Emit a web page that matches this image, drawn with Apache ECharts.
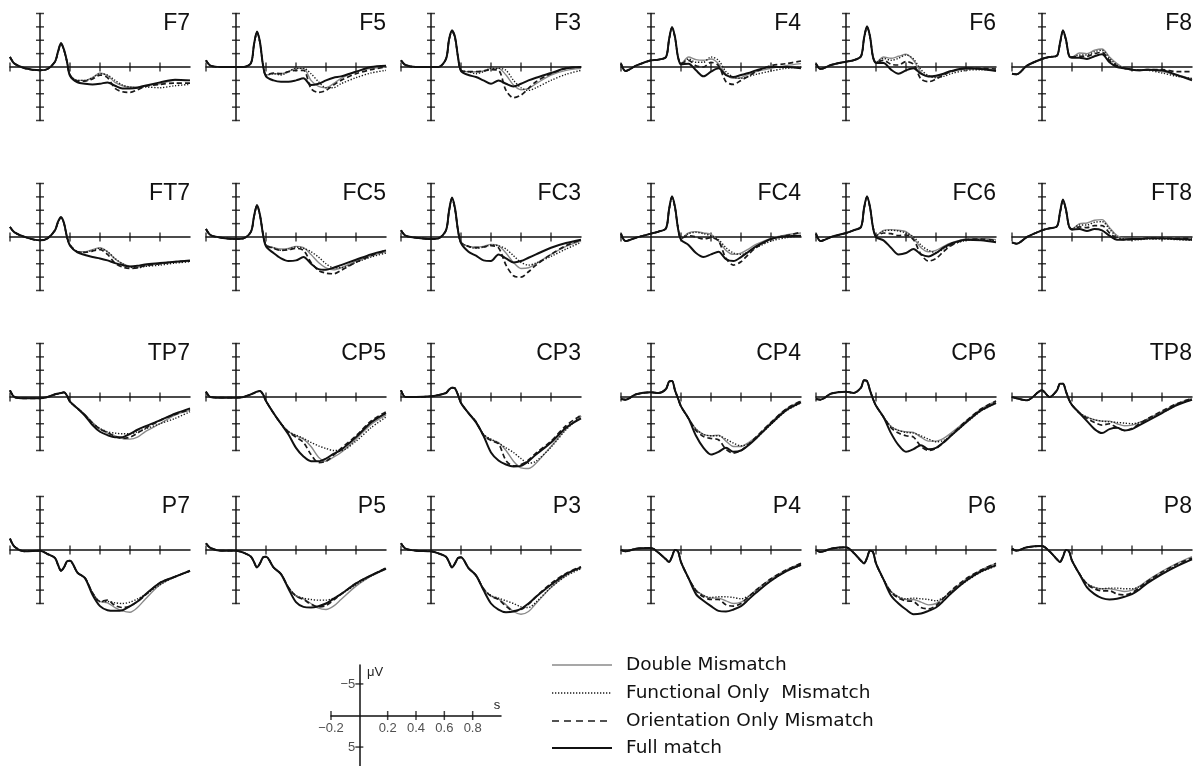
<!DOCTYPE html>
<html><head><meta charset="utf-8">
<script src="https://cdn.jsdelivr.net/npm/echarts/dist/echarts.min.js"></script>
<style>html,body{margin:0;padding:0;background:#fff}#c{width:1195px;height:766px}</style>
</head><body><div id="c"></div>
<script>
// time points (s)
const times = [-0.2,-0.17,-0.1,0,0.05,0.1,0.12,0.14,0.16,0.18,0.2,0.25,0.3,0.35,0.4,0.45,0.5,0.55,0.6,0.65,0.7,0.8,0.9,1.0];
const conditions = ['Double Mismatch','Functional Only  Mismatch','Orientation Only Mismatch','Full match'];
const electrodes = ['F7','F5','F3','F4','F6','F8','FT7','FC5','FC3','FC4','FC6','FT8','TP7','CP5','CP3','CP4','CP6','TP8','P7','P5','P3','P4','P6','P8'];
// each electrode: [double, functional, orientation, full] in µV (negative plotted up)
const F7 = [
[-1.5,-0.5,0.2,0.5,0.3,-0.8,-2.2,-3.5,-2.5,-0.8,1.2,2.0,2.0,1.6,0.9,1.3,2.3,2.8,3.0,3.0,2.8,2.5,2.0,2.0],
[-1.5,-0.5,0.2,0.5,0.3,-0.8,-2.2,-3.4,-2.5,-0.8,1.2,2.0,2.0,1.6,1.0,1.2,2.0,2.7,3.0,3.1,3.0,3.1,2.8,2.6],
[-1.5,-0.5,0.2,0.5,0.3,-0.8,-2.2,-3.5,-2.5,-0.8,1.2,2.1,2.1,1.8,1.2,1.6,3.2,3.7,3.8,3.4,2.9,2.6,2.4,2.4],
[-1.5,-0.5,0.2,0.5,0.3,-0.8,-2.3,-3.6,-2.6,-0.8,1.3,2.3,2.5,2.6,2.5,2.3,2.8,3.2,3.2,3.1,2.8,2.3,1.9,2.0]];
const F5 = [
[-1.0,-0.2,0,0,0,-0.6,-3.3,-5.2,-3.6,-0.3,1.2,1.0,1.0,0.7,0.2,0.2,2.0,2.9,3.1,2.5,1.7,0.7,0.2,0.0],
[-1.0,-0.2,0,0,0,-0.6,-3.3,-5.1,-3.6,-0.3,1.2,1.0,1.2,0.7,0.2,0.2,1.0,2.2,3.1,3.1,2.5,1.6,0.9,0.5],
[-1.0,-0.2,0,0,0,-0.6,-3.3,-5.2,-3.6,-0.3,1.2,0.9,1.0,0.7,0.5,0.5,3.2,3.8,3.5,2.7,2.0,1.0,0.4,0.0],
[-1.0,-0.2,0,0,0,-0.6,-3.4,-5.3,-3.7,-0.3,1.4,2.0,2.2,2.2,2.0,1.7,2.7,2.5,2.0,1.6,1.4,0.7,0.0,-0.2]];
const F3 = [
[-1.0,-0.3,0,0,0,-1.2,-4.0,-5.4,-4.4,-1.5,0.5,0.7,0.7,0.6,0.2,0.2,1.2,2.7,3.4,3.2,2.5,1.2,0.5,0.2],
[-1.0,-0.3,0,0,0,-1.2,-4.0,-5.3,-4.4,-1.5,0.5,0.7,1.0,0.7,0.2,0.2,0.5,2.0,3.1,3.5,3.1,2.0,1.1,0.5],
[-1.0,-0.3,0,0,0,-1.2,-4.0,-5.4,-4.4,-1.5,0.5,0.7,0.7,0.6,0.4,0.5,3.5,4.6,4.2,3.2,2.2,1.0,0.2,0.0],
[-1.0,-0.3,0,0,0,-1.2,-4.1,-5.5,-4.5,-1.5,0.6,1.2,1.5,2.0,2.5,2.0,2.5,2.9,2.5,2.0,1.6,0.9,0.2,0.0]];
const F4 = [
[-0.5,0.6,-0.2,-1.0,-1.1,-1.5,-4.0,-5.9,-4.4,-1.5,-0.5,-1.5,-1.1,-1.0,-1.2,-0.5,1.1,1.7,1.6,1.1,0.7,0.2,-0.2,-0.5],
[-0.5,0.6,-0.2,-1.0,-1.1,-1.5,-4.0,-5.8,-4.4,-1.5,-0.5,-1.2,-0.7,-0.7,-1.5,-1.0,0.7,1.5,1.7,1.4,1.1,0.6,0.2,0.0],
[-0.5,0.6,-0.2,-1.0,-1.1,-1.5,-4.0,-5.9,-4.4,-1.5,-0.5,-1.0,-0.2,0.0,-0.7,-0.2,2.2,2.6,2.0,1.4,0.7,-0.2,-0.5,-0.9],
[-0.5,0.6,-0.2,-1.0,-1.1,-1.5,-4.1,-6.0,-4.5,-1.5,-0.4,-0.5,0.5,1.4,0.7,0.2,1.2,1.5,1.2,0.9,0.5,0.0,0.0,0.2]];
const F6 = [
[-0.5,0.3,-0.3,-0.8,-1.0,-1.6,-4.2,-6.0,-4.5,-1.5,-0.7,-1.5,-1.3,-1.6,-1.9,-1.0,0.8,1.5,1.5,1.1,0.7,0.3,0.2,0.3],
[-0.5,0.3,-0.3,-0.8,-1.0,-1.6,-4.2,-5.9,-4.5,-1.5,-0.7,-1.3,-1.0,-1.3,-1.8,-1.2,0.4,1.3,1.6,1.4,1.0,0.5,0.4,0.5],
[-0.5,0.3,-0.3,-0.8,-1.0,-1.6,-4.2,-6.0,-4.5,-1.5,-0.7,-1.0,-0.4,-0.3,-0.8,-0.4,1.8,2.2,1.8,1.2,0.7,0.2,0.2,0.3],
[-0.5,0.3,-0.3,-0.8,-1.0,-1.6,-4.3,-6.1,-4.6,-1.5,-0.6,-0.6,0.4,1.0,0.5,0.2,1.0,1.4,1.3,1.0,0.6,0.2,0.3,0.6]];
const F8 = [
[1.0,1.1,-0.2,-1.2,-1.5,-1.7,-3.5,-5.4,-4.0,-1.7,-1.5,-2.1,-2.0,-2.5,-2.7,-1.5,-0.5,0.2,0.4,0.5,0.4,0.7,1.2,1.8],
[1.0,1.1,-0.2,-1.2,-1.5,-1.7,-3.5,-5.3,-4.0,-1.7,-1.5,-1.8,-1.8,-2.3,-2.5,-1.3,-0.3,0.2,0.4,0.5,0.5,0.9,1.4,1.7],
[1.0,1.1,-0.2,-1.2,-1.5,-1.7,-3.5,-5.4,-4.0,-1.7,-1.5,-1.6,-1.6,-2.0,-2.2,-1.0,-0.2,0.2,0.4,0.5,0.4,0.4,0.7,0.7],
[1.0,1.1,-0.2,-1.2,-1.5,-1.7,-3.6,-5.5,-4.1,-1.7,-1.4,-1.4,-1.2,-1.6,-1.9,-0.7,0.0,0.2,0.4,0.5,0.4,0.5,1.2,2.0]];
const FT7 = [
[-1.5,-0.7,0,0.5,0.2,-1.0,-2.2,-2.9,-2.0,0,1.2,2.2,2.2,1.9,1.6,2.2,3.3,4.0,4.4,4.5,4.3,4.0,3.7,3.6],
[-1.5,-0.7,0,0.5,0.2,-1.0,-2.2,-2.8,-2.0,0,1.2,2.2,2.3,2.0,1.7,2.2,3.2,4.0,4.5,4.6,4.4,4.2,3.9,3.7],
[-1.5,-0.7,0,0.5,0.2,-1.0,-2.2,-2.9,-2.0,0,1.2,2.2,2.3,2.1,1.9,2.6,3.9,4.5,4.7,4.6,4.3,4.0,3.7,3.6],
[-1.5,-0.7,0,0.5,0.2,-1.0,-2.3,-3.0,-2.1,0,1.3,2.3,2.7,3.0,3.2,3.5,3.9,4.2,4.4,4.3,4.1,3.9,3.7,3.5]];
const FC5 = [
[-1.2,-0.3,0.1,0.3,0.2,-0.8,-3.0,-4.7,-3.2,-0.5,1.2,1.6,1.8,1.7,1.4,1.6,2.6,3.8,4.6,4.9,4.6,3.6,2.8,2.2],
[-1.2,-0.3,0.1,0.3,0.2,-0.8,-3.0,-4.6,-3.2,-0.5,1.2,1.6,2.0,1.8,1.5,1.7,2.2,3.0,4.0,4.6,4.6,3.8,3.0,2.4],
[-1.2,-0.3,0.1,0.3,0.2,-0.8,-3.0,-4.7,-3.2,-0.5,1.2,1.7,2.0,1.9,1.7,2.0,3.8,5.0,5.4,5.5,5.0,3.8,2.8,2.0],
[-1.2,-0.3,0.1,0.3,0.2,-0.8,-3.1,-4.8,-3.3,-0.4,1.4,2.4,3.2,3.6,3.5,3.0,4.0,4.8,4.9,4.6,4.2,3.4,2.6,2.0]];
const FC3 = [
[-1.0,-0.2,0.1,0.3,0.2,-1.0,-3.8,-5.8,-4.2,-1.0,0.8,1.4,1.5,1.4,1.1,1.3,2.4,3.8,4.7,4.6,4.0,2.6,1.4,0.6],
[-1.0,-0.2,0.1,0.3,0.2,-1.0,-3.8,-5.7,-4.2,-1.0,0.8,1.4,1.7,1.5,1.2,1.3,1.8,2.8,3.8,4.2,3.9,2.9,1.8,0.8],
[-1.0,-0.2,0.1,0.3,0.2,-1.0,-3.8,-5.8,-4.2,-1.0,0.8,1.4,1.6,1.5,1.3,1.6,4.2,5.8,6.0,5.2,4.2,2.6,1.3,0.4],
[-1.0,-0.2,0.1,0.3,0.2,-1.0,-3.9,-5.9,-4.3,-1.0,0.9,2.2,2.8,3.5,3.6,2.6,3.2,3.8,3.6,3.1,2.6,1.6,0.9,0.4]];
const FC4 = [
[-0.5,0.6,0.1,-0.5,-0.8,-1.3,-4.0,-6.0,-4.4,-1.4,0.2,-0.6,-0.8,-0.6,-0.4,0.6,2.0,2.6,2.4,1.8,1.1,0.2,-0.3,-0.6],
[-0.5,0.6,0.1,-0.5,-0.8,-1.3,-4.0,-5.9,-4.4,-1.4,0.2,-0.5,-0.7,-0.5,-0.2,0.4,1.6,2.4,2.6,2.2,1.6,0.6,0.1,-0.2],
[-0.5,0.6,0.1,-0.5,-0.8,-1.3,-4.0,-6.0,-4.4,-1.4,0.2,-0.2,0.0,0.3,0.1,0.6,3.2,4.2,3.7,2.6,1.6,0.3,-0.2,-0.7],
[-0.5,0.6,0.1,-0.5,-0.8,-1.3,-4.1,-6.1,-4.5,-1.3,0.4,1.2,2.4,3.0,2.6,2.2,3.3,3.6,3.0,2.2,1.4,0.3,-0.1,-0.2]];
const FC6 = [
[-0.5,0.6,0.0,-0.6,-1.0,-1.5,-4.2,-6.0,-4.4,-1.5,-0.2,-1.0,-1.1,-1.0,-0.8,0.2,1.6,2.2,2.0,1.4,0.9,0.3,0.2,0.4],
[-0.5,0.6,0.0,-0.6,-1.0,-1.5,-4.2,-5.9,-4.4,-1.5,-0.2,-0.9,-1.0,-0.9,-0.6,0.0,1.2,2.0,2.3,1.8,1.2,0.5,0.4,0.6],
[-0.5,0.6,0.0,-0.6,-1.0,-1.5,-4.2,-6.0,-4.4,-1.5,-0.2,-0.6,-0.5,-0.2,-0.3,0.4,2.6,3.6,3.2,2.2,1.3,0.4,0.3,0.5],
[-0.5,0.6,0.0,-0.6,-1.0,-1.5,-4.3,-6.1,-4.5,-1.4,0.0,0.5,1.6,2.6,2.4,1.8,2.6,2.9,2.4,1.6,1.0,0.4,0.5,0.8]];
const FT8 = [
[0.8,1.0,0.0,-1.0,-1.3,-1.6,-3.6,-5.5,-4.0,-1.6,-1.2,-2.0,-2.1,-2.5,-2.6,-1.4,-0.2,0.2,0.2,0.2,0.1,0.1,0.2,0.3],
[0.8,1.0,0.0,-1.0,-1.3,-1.6,-3.6,-5.4,-4.0,-1.6,-1.2,-1.8,-1.8,-2.2,-2.3,-1.2,0.0,0.3,0.4,0.4,0.3,0.3,0.4,0.5],
[0.8,1.0,0.0,-1.0,-1.3,-1.6,-3.6,-5.5,-4.0,-1.6,-1.2,-1.5,-1.4,-1.7,-1.7,-0.6,0.2,0.4,0.4,0.3,0.2,0.2,0.2,0.2],
[0.8,1.0,0.0,-1.0,-1.3,-1.6,-3.7,-5.6,-4.1,-1.6,-1.1,-1.2,-0.9,-1.2,-1.0,-0.2,0.4,0.4,0.3,0.3,0.2,0.2,0.3,0.4]];
const TP7 = [
[-1.0,0.0,0.2,0.2,0.0,-0.4,-0.5,-0.6,-0.7,-0.2,0.7,1.7,2.6,3.8,4.8,5.4,5.8,6.2,6.3,6.0,5.2,4.0,2.7,2.0],
[-1.0,0.0,0.2,0.2,0.0,-0.4,-0.5,-0.6,-0.7,-0.2,0.7,1.7,2.7,3.9,4.7,5.2,5.4,5.5,5.5,5.2,4.8,4.0,3.2,2.2],
[-1.0,0.0,0.2,0.2,0.0,-0.4,-0.5,-0.6,-0.7,-0.2,0.7,1.7,2.7,3.9,4.8,5.3,5.9,6.2,6.0,5.4,4.7,3.5,2.6,1.9],
[-1.0,0.0,0.2,0.2,0.0,-0.4,-0.5,-0.6,-0.7,-0.2,0.7,1.7,2.8,4.2,5.2,5.7,6.0,6.0,5.5,4.9,4.4,3.5,2.5,1.7]];
const CP5 = [
[-0.8,0.0,0.1,0.1,0.0,-0.4,-0.6,-0.8,-0.9,-0.4,0.6,2.4,4.0,5.2,5.8,6.3,7.4,9.0,9.6,9.0,8.3,6.3,4.1,2.7],
[-0.8,0.0,0.1,0.1,0.0,-0.4,-0.6,-0.8,-0.9,-0.4,0.6,2.4,4.0,5.2,5.7,6.2,6.8,7.3,7.7,8.0,8.0,6.6,4.6,3.0],
[-0.8,0.0,0.1,0.1,0.0,-0.4,-0.6,-0.8,-0.9,-0.4,0.6,2.4,4.0,5.2,6.0,6.8,8.6,9.8,9.6,8.7,7.7,5.8,3.6,2.2],
[-0.8,0.0,0.1,0.1,0.0,-0.4,-0.6,-0.8,-0.9,-0.4,0.6,2.4,4.0,5.6,7.6,8.9,9.6,9.6,9.2,8.5,7.9,6.0,3.8,2.4]];
const CP3 = [
[-1.0,0.0,0.0,-0.1,-0.3,-0.6,-1.1,-1.4,-1.3,-0.3,0.9,2.4,3.7,5.6,6.4,6.8,8.0,9.6,10.6,10.7,9.9,7.4,4.8,2.9],
[-1.0,0.0,0.0,-0.1,-0.3,-0.6,-1.1,-1.4,-1.3,-0.3,0.9,2.4,3.7,5.6,6.3,6.9,7.6,8.3,9.2,9.9,9.6,7.5,4.9,2.8],
[-1.0,0.0,0.0,-0.1,-0.3,-0.6,-1.1,-1.4,-1.3,-0.3,0.9,2.4,3.7,5.7,6.5,7.0,9.5,10.3,10.1,9.4,8.4,6.6,4.3,2.7],
[-1.0,0.0,0.0,-0.1,-0.3,-0.6,-1.1,-1.4,-1.3,-0.3,0.9,2.4,3.8,5.8,8.3,9.5,10.1,10.4,10.3,9.6,8.6,6.8,4.6,3.2]];
const CP4 = [
[0.3,0.4,-0.4,-0.7,-0.6,-1.2,-2.3,-2.4,-1.0,0.2,1.4,3.2,4.8,5.6,5.8,5.7,6.6,7.4,7.4,6.8,6.0,3.8,1.8,0.6],
[0.3,0.4,-0.4,-0.7,-0.6,-1.2,-2.3,-2.4,-1.0,0.2,1.4,3.2,4.8,5.6,5.8,5.8,6.3,6.9,7.3,7.0,6.2,4.1,2.1,0.9],
[0.3,0.4,-0.4,-0.7,-0.6,-1.2,-2.3,-2.4,-1.0,0.2,1.4,3.2,5.0,5.9,6.2,6.4,7.8,8.4,8.0,7.1,6.0,3.8,1.8,0.6],
[0.3,0.4,-0.4,-0.7,-0.6,-1.2,-2.3,-2.4,-1.0,0.2,1.4,3.2,5.8,7.6,8.6,8.2,7.6,8.2,8.0,7.2,6.2,4.0,2.0,0.8]];
const CP6 = [
[0.3,0.4,-0.5,-0.8,-0.6,-1.4,-2.5,-2.4,-1.0,0.3,1.3,3.0,4.4,5.0,5.2,5.3,6.0,6.6,6.6,6.2,5.4,3.6,1.8,0.6],
[0.3,0.4,-0.5,-0.8,-0.6,-1.4,-2.5,-2.4,-1.0,0.3,1.3,3.0,4.4,5.0,5.3,5.4,5.8,6.3,6.7,6.5,5.8,3.9,2.1,0.9],
[0.3,0.4,-0.5,-0.8,-0.6,-1.4,-2.5,-2.4,-1.0,0.3,1.3,3.0,4.6,5.4,5.8,6.0,7.4,8.0,7.7,6.8,5.7,3.6,1.8,0.6],
[0.3,0.4,-0.5,-0.8,-0.6,-1.4,-2.5,-2.4,-1.0,0.3,1.3,3.0,5.4,7.2,8.2,7.8,7.2,7.8,7.6,6.8,5.8,3.8,2.0,0.9]];
const TP8 = [
[0.0,0.2,0.5,-1.0,0.0,-1.0,-2.0,-2.0,-0.8,0.4,1.2,2.4,3.0,3.4,3.6,3.6,4.0,4.3,4.2,3.8,3.3,2.2,1.0,0.2],
[0.0,0.2,0.5,-1.0,0.0,-1.0,-2.0,-2.0,-0.8,0.4,1.2,2.4,3.0,3.4,3.6,3.7,3.8,3.9,4.0,3.8,3.4,2.4,1.2,0.4],
[0.0,0.2,0.5,-1.0,0.0,-1.0,-2.0,-2.0,-0.8,0.4,1.2,2.4,3.2,3.8,4.2,4.0,4.6,5.0,4.7,4.0,3.3,2.1,1.0,0.2],
[0.0,0.2,0.5,-1.0,0.0,-1.0,-2.0,-2.0,-0.8,0.4,1.2,2.4,3.6,4.8,5.4,4.8,4.6,5.0,4.8,4.2,3.6,2.4,1.2,0.4]];
const P7 = [
[-1.7,-0.5,0.2,0.1,0.6,1.2,2.2,3.1,2.6,1.7,1.6,3.4,4.2,6.4,7.7,7.9,8.6,9.1,9.3,8.6,7.4,5.2,4.0,3.2],
[-1.7,-0.5,0.2,0.1,0.6,1.2,2.2,3.1,2.6,1.7,1.6,3.4,4.2,6.4,7.7,7.7,7.9,8.0,7.8,7.3,6.7,5.2,4.0,3.2],
[-1.7,-0.5,0.2,0.1,0.6,1.2,2.2,3.1,2.6,1.7,1.6,3.4,4.2,6.4,7.7,7.5,8.3,8.6,8.4,7.7,6.8,4.9,4.0,3.1],
[-1.7,-0.5,0.2,0.1,0.6,1.2,2.2,3.1,2.6,1.7,1.6,3.4,4.2,6.7,8.4,9.0,9.1,9.0,8.4,7.7,6.7,4.9,4.0,3.1]];
const P5 = [
[-1.0,-0.3,0.1,0.1,0.4,1.0,1.8,2.6,2.0,1.1,1.0,2.6,3.6,5.6,6.9,7.3,8.0,8.7,8.9,8.4,7.4,5.4,3.9,2.7],
[-1.0,-0.3,0.1,0.1,0.4,1.0,1.8,2.6,2.0,1.1,1.0,2.6,3.6,5.6,6.8,7.2,7.4,7.5,7.5,7.2,6.6,5.2,3.9,2.8],
[-1.0,-0.3,0.1,0.1,0.4,1.0,1.8,2.6,2.0,1.1,1.0,2.6,3.6,5.6,6.9,7.4,8.1,8.5,8.3,7.5,6.6,5.0,3.8,2.7],
[-1.0,-0.3,0.1,0.1,0.4,1.0,1.8,2.6,2.0,1.1,1.0,2.6,3.6,5.8,7.8,8.5,8.6,8.4,8.0,7.3,6.6,5.0,3.8,2.8]];
const P3 = [
[-1.0,-0.2,0.1,0.2,0.5,1.0,1.8,2.6,2.0,1.2,1.1,2.7,3.8,5.8,6.9,7.3,8.2,9.2,9.6,9.2,8.0,5.6,3.8,2.6],
[-1.0,-0.2,0.1,0.2,0.5,1.0,1.8,2.6,2.0,1.2,1.1,2.7,3.8,5.8,6.8,7.2,7.6,8.0,8.5,8.6,7.8,5.6,3.9,2.8],
[-1.0,-0.2,0.1,0.2,0.5,1.0,1.8,2.6,2.0,1.2,1.1,2.7,3.8,5.8,6.9,7.4,8.4,9.1,8.9,8.1,7.0,5.0,3.5,2.5],
[-1.0,-0.2,0.1,0.2,0.5,1.0,1.8,2.6,2.0,1.2,1.1,2.7,3.8,6.0,8.0,8.9,9.3,9.2,8.8,8.0,7.0,5.2,3.6,2.6]];
const P4 = [
[0.0,0.2,-0.2,-0.3,0.4,1.4,1.8,1.0,0.0,0.2,1.8,4.2,6.0,6.8,7.2,7.2,7.6,8.0,7.8,7.0,6.0,4.3,3.0,2.0],
[0.0,0.2,-0.2,-0.3,0.4,1.4,1.8,1.0,0.0,0.2,1.8,4.2,6.0,6.8,7.1,7.0,7.0,7.1,7.3,6.9,6.2,4.6,3.2,2.3],
[0.0,0.2,-0.2,-0.3,0.4,1.4,1.8,1.0,0.0,0.2,1.8,4.2,6.1,7.0,7.4,7.4,8.2,8.4,8.0,7.0,6.0,4.3,3.0,2.0],
[0.0,0.2,-0.2,-0.3,0.4,1.4,1.8,1.0,0.0,0.2,1.8,4.2,6.6,7.6,8.4,9.1,9.2,8.9,8.4,7.4,6.4,4.6,3.2,2.2]];
const P6 = [
[0.0,0.3,-0.2,-0.4,0.4,1.6,2.0,1.2,0.1,0.3,2.0,4.4,6.2,7.0,7.4,7.4,7.8,8.2,8.0,7.2,6.2,4.4,3.0,2.0],
[0.0,0.3,-0.2,-0.4,0.4,1.6,2.0,1.2,0.1,0.3,2.0,4.4,6.2,7.0,7.3,7.2,7.3,7.4,7.6,7.1,6.3,4.7,3.3,2.4],
[0.0,0.3,-0.2,-0.4,0.4,1.6,2.0,1.2,0.1,0.3,2.0,4.4,6.3,7.2,7.6,7.7,8.6,8.8,8.3,7.2,6.1,4.3,3.0,2.0],
[0.0,0.3,-0.2,-0.4,0.4,1.6,2.0,1.2,0.1,0.3,2.0,4.4,6.8,8.0,8.9,9.6,9.5,9.1,8.6,7.6,6.5,4.6,3.2,2.3]];
const P8 = [
[-0.2,0.1,-0.4,-0.6,0.2,1.4,1.8,1.0,0.0,0.2,1.6,3.6,5.0,5.6,5.8,5.8,6.0,6.2,6.0,5.4,4.6,3.2,2.0,1.0],
[-0.2,0.1,-0.4,-0.6,0.2,1.4,1.8,1.0,0.0,0.2,1.6,3.6,5.0,5.6,5.8,5.7,5.7,5.8,5.8,5.5,4.9,3.5,2.3,1.4],
[-0.2,0.1,-0.4,-0.6,0.2,1.4,1.8,1.0,0.0,0.2,1.6,3.6,5.1,5.8,6.1,6.1,6.6,6.7,6.4,5.6,4.7,3.3,2.1,1.2],
[-0.2,0.1,-0.4,-0.6,0.2,1.4,1.8,1.0,0.0,0.2,1.6,3.6,5.6,6.6,7.2,7.4,7.3,7.0,6.6,5.9,5.0,3.6,2.4,1.4]];

// panel axis tick positions
const xTicks = [-0.2,0.2,0.4,0.6,0.8];
const yTicks = [-8,-6,-4,-2,2,4,6,8];
// scale-bar ticks and labels
const scaleXTicks = [-0.2,0.2,0.4,0.6,0.8];
const scaleXLabels = ['\u22120.2','0.2','0.4','0.6','0.8'];
const scaleYTicks = [-5,5];
const scaleYLabels = ['\u22125','5'];

const waves = {F7,F5,F3,F4,F6,F8,FT7,FC5,FC3,FC4,FC6,FT8,TP7,CP5,CP3,CP4,CP6,TP8,P7,P5,P3,P4,P6,P8};

// layout
const colX = [40,236,431,651,846,1042];
const rowZero = [67,237,397,550];
const lineStyles = [
  {color:'#8a8a8a', width:1.4, type:'solid'},
  {color:'#1a1a1a', width:1.4, type:[1.3,1.7]},
  {color:'#1a1a1a', width:1.7, type:[5,3]},
  {color:'#111111', width:2.0, type:'solid'}
];
const axisLineStyle = {color:'#111', width:1.5};

const grid=[], xAxis=[], yAxis=[], series=[], graphic=[];
electrodes.forEach((name,g)=>{
  const r=Math.floor(g/6), c=g%6;
  grid.push({left:colX[c]-30, top:rowZero[r]-53.5, width:180, height:107});
  xAxis.push({gridIndex:g,type:'value',min:-0.2,max:1.0,axisLine:{onZero:true,lineStyle:axisLineStyle},axisTick:{show:false},axisLabel:{show:false},splitLine:{show:false}});
  yAxis.push({gridIndex:g,type:'value',min:-8,max:8,inverse:true,axisLine:{onZero:true,lineStyle:axisLineStyle},axisTick:{show:false},axisLabel:{show:false},splitLine:{show:false}});
  series.push({type:'scatter',xAxisIndex:g,yAxisIndex:g,silent:true,clip:false,symbol:'rect',symbolSize:[1.5,9],itemStyle:{color:'#111'},data:xTicks.map(v=>[v,0]),z:3});
  series.push({type:'scatter',xAxisIndex:g,yAxisIndex:g,silent:true,clip:false,symbol:'rect',symbolSize:[8,1.5],itemStyle:{color:'#111'},data:yTicks.map(v=>[0,v]),z:3});
  const w=waves[name];
  w.forEach((arr,k)=>{
    series.push({type:'line',name:conditions[k],xAxisIndex:g,yAxisIndex:g,clip:false,showSymbol:false,symbol:'none',smooth:0.3,
      lineStyle:lineStyles[k],data:times.map((t,i)=>[t,arr[i]]),z:4+k,silent:true});
  });
  graphic.push({type:'text',x:colX[c]+150,y:rowZero[r]-43.5,style:{text:name,fill:'#111',font:'23px "Liberation Sans", Arial, sans-serif',textAlign:'right',textVerticalAlign:'middle'}});
});

// scale bar
const sg = electrodes.length;
grid.push({left:331, top:665, width:170, height:101});
xAxis.push({gridIndex:sg,type:'value',min:-0.2,max:1.0,axisLine:{onZero:true,lineStyle:axisLineStyle},axisTick:{show:false},axisLabel:{show:false},splitLine:{show:false}});
yAxis.push({gridIndex:sg,type:'value',min:-8,max:8,inverse:true,axisLine:{onZero:true,lineStyle:axisLineStyle},axisTick:{show:false},axisLabel:{show:false},splitLine:{show:false}});
series.push({type:'scatter',xAxisIndex:sg,yAxisIndex:sg,silent:true,clip:false,symbol:'rect',symbolSize:[1.5,9],itemStyle:{color:'#111'},
  data:scaleXTicks.map((v,i)=>({value:[v,0],label:{formatter:scaleXLabels[i]}})),
  label:{show:true,position:'bottom',distance:2,color:'#222',fontSize:13,fontFamily:'"Liberation Sans", Arial, sans-serif'}});
series.push({type:'scatter',xAxisIndex:sg,yAxisIndex:sg,silent:true,clip:false,symbol:'rect',symbolSize:[8,1.5],itemStyle:{color:'#111'},
  data:scaleYTicks.map((v,i)=>({value:[0,v],label:{formatter:scaleYLabels[i]}})),
  label:{show:true,position:'left',distance:0,color:'#222',fontSize:13,fontFamily:'"Liberation Sans", Arial, sans-serif'}});
graphic.push({type:'text',x:367,y:672,style:{text:'\u03bcV',fill:'#222',font:'13px "Liberation Sans", Arial, sans-serif',textAlign:'left',textVerticalAlign:'middle'}});
graphic.push({type:'text',x:497,y:705,style:{text:'s',fill:'#222',font:'13px "Liberation Sans", Arial, sans-serif',textAlign:'center',textVerticalAlign:'middle'}});

// legend
const legY = [665,693,721,748];
const legDash = [null,[1.3,1.7],[7,5],null];
conditions.forEach((name,k)=>{
  graphic.push({type:'line',shape:{x1:552,y1:legY[k],x2:612,y2:legY[k]},style:{stroke:lineStyles[k].color,lineWidth:k===3?2.2:lineStyles[k].width,lineDash:legDash[k]}});
  graphic.push({type:'text',x:626,y:legY[k],style:{text:name,fill:'#111',font:'18.5px "DejaVu Sans", sans-serif',textAlign:'left',textVerticalAlign:'middle'}});
});

const chart = echarts.init(document.getElementById('c'),null,{renderer:'canvas'});
chart.setOption({backgroundColor:'#fff',animation:false,grid,xAxis,yAxis,series,graphic});
</script>
</body></html>
